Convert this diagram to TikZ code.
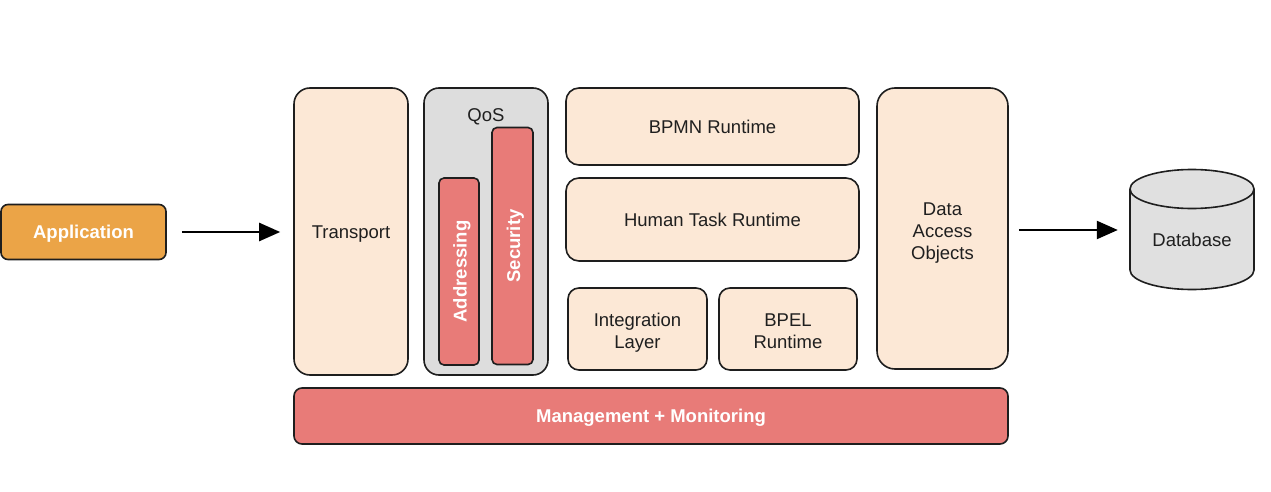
\documentclass[tikz,border=0pt]{standalone}
\usepackage{fontspec}
\setmainfont{Liberation Sans}
\usetikzlibrary{arrows.meta}
\definecolor{peach}{HTML}{FCE8D6}
\definecolor{appor}{HTML}{EBA447}
\definecolor{redbox}{HTML}{E87B78}
\definecolor{qosgray}{HTML}{DDDDDD}
\definecolor{dbgray}{HTML}{E0E0E0}
\definecolor{edge}{HTML}{1E1E1E}
\tikzset{
  base/.style={draw=edge, line width=1.6pt, inner sep=0pt, align=center,
    text height=13.3pt, text depth=0pt,
    font=\fontsize{18.5}{22}\selectfont, text=black!88},
  twolines/.style={text height=39.3pt},
  threelines/.style={text height=61.3pt},
  peachbox/.style={base, fill=peach, rounded corners=13pt},
  smallpeach/.style={base, fill=peach, rounded corners=11pt},
  redbar/.style={base, fill=redbox, rounded corners=5pt, text=white,
    font=\fontsize{18.5}{22}\selectfont\bfseries},
  appbox/.style={base, fill=appor, rounded corners=7pt, text=white,
    font=\fontsize{18.5}{22}\selectfont\bfseries},
  qosbox/.style={base, fill=qosgray, rounded corners=15pt},
  plain/.style={inner sep=0pt, text height=13.3pt, text depth=0pt,
    font=\fontsize{18.5}{22}\selectfont, text=black!88},
  vtext/.style={plain, rotate=90, text=white, font=\fontsize{18.5}{22}\selectfont\bfseries},
  arr/.style={-{Triangle[length=21pt,width=18pt]}, line width=2.4pt, draw=black},
  dbshape/.style={draw=edge, line width=1.6pt, fill=dbgray}
}
\begin{document}
\begin{tikzpicture}[x=1pt,y=-1pt]
\useasboundingbox (0,0) rectangle (1271,492);
% Application
\node[appbox, minimum width=165pt, minimum height=55pt] (app) at (83.5,232) {Application};
% Transport
\node[peachbox, rounded corners=16pt, minimum width=114pt, minimum height=287pt] (transport) at (351,231.5) {Transport};
% QoS
\node[qosbox, minimum width=124pt, minimum height=287pt] (qos) at (486,231.5) {};
\node[plain] (qoslabel) at (486,115) {QoS};
\node[redbar, minimum width=40pt, minimum height=187pt] (addr) at (459,271.5) {};
\node[vtext] (addrtext) at (460,271.5) {Addressing};
\node[redbar, minimum width=41pt, minimum height=237pt] (sec) at (512.5,246) {};
\node[vtext] (sectext) at (513.5,246) {Security};
% Runtimes
\node[peachbox, minimum width=293pt, minimum height=77pt] (bpmn) at (712.5,126.5) {BPMN Runtime};
\node[peachbox, minimum width=293pt, minimum height=83pt] (human) at (712.5,219.5) {Human Task Runtime};
\node[smallpeach, twolines, minimum width=139pt, minimum height=82pt] (integ) at (637.5,329) {Integration\\Layer};
\node[smallpeach, twolines, minimum width=138pt, minimum height=82pt] (bpel) at (788,329) {BPEL\\Runtime};
% Data access
\node[peachbox, threelines, rounded corners=18pt, minimum width=131pt, minimum height=281pt] (dao) at (942.5,228.5) {Data\\Access\\Objects};
% Management
\node[redbar, rounded corners=8pt, minimum width=714pt, minimum height=56pt] (mgmt) at (651,416) {Management + Monitoring};
% Database
\path[dbshape] (1130,189) -- (1130,270) arc[start angle=180, end angle=360, x radius=62pt, y radius=19.5pt]
  -- (1254,189) arc[start angle=0, end angle=180, x radius=62pt, y radius=19.5pt] -- cycle;
\draw[draw=edge, line width=1.6pt] (1130,189) arc[start angle=180, end angle=360, x radius=62pt, y radius=19.5pt];
\node[plain, minimum width=124pt, minimum height=60pt] (db) at (1192,240) {Database};
% Arrows
\draw[arr, shorten <=15pt, shorten >=13pt] (app.east) -- (transport.west |- app.east);
\draw[arr, shorten <=10pt, shorten >=12pt] (dao.east |- 0,230) -- (db.west |- 0,230);
\end{tikzpicture}
\end{document}
